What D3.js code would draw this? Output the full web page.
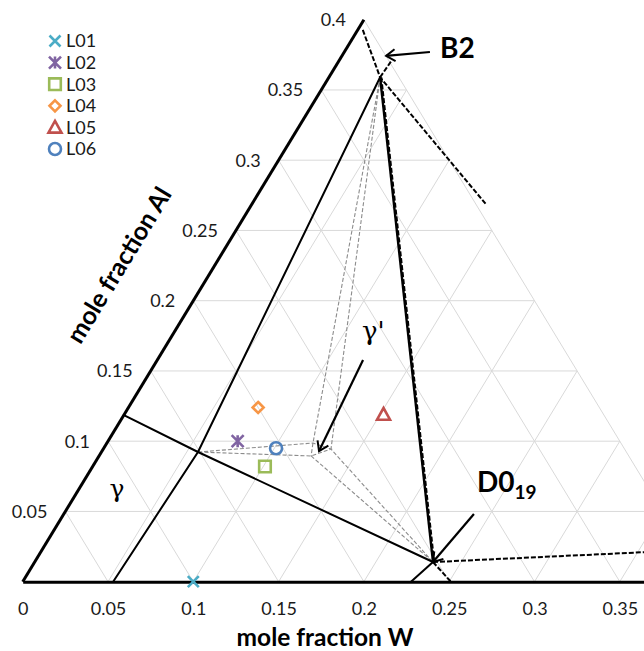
<!DOCTYPE html>
<html>
<head>
<meta charset="utf-8">
<script src="https://cdn.jsdelivr.net/npm/d3@7"></script>
<style>
  body { margin: 0; background: #fff; }
  svg { display: block; }
</style>
</head>
<body>
<svg id="chart"></svg>
<script>
// measured samples: mole fraction W and Al
const series = ["L01", "L02", "L03", "L04", "L05", "L06"];
const seriesW = [0.100, 0.076, 0.101, 0.076, 0.152, 0.101];
const seriesAl = [0.000, 0.100, 0.082, 0.124, 0.119, 0.095];
const seriesColor = ["#4bacc6", "#8064a2", "#9bbb59", "#f79646", "#c0504d", "#4f81bd"];
const seriesShape = ["times", "star", "square", "diamond", "triangle", "circle"];

// tick labels
const wTicks = [0, 0.05, 0.1, 0.15, 0.2, 0.25, 0.3, 0.35];
const alTicks = [0.05, 0.1, 0.15, 0.2, 0.25, 0.3, 0.35, 0.4];
const gridSteps = [0.05, 0.1, 0.15, 0.2, 0.25, 0.3, 0.35, 0.4];

// phase points [W, Al]
const ptB2 = [0.030, 0.359];
const ptD019 = [0.2335, 0.014];
const ptGamma = [0.0566, 0.0923];
const ptGp = [[0.1208, 0.0987], [0.1335, 0.0944], [0.1243, 0.0895]];

// phase boundaries
const solidLines = [
	[[0.053, 0], ptGamma, ptB2],
	[[0, 0.1186], ptGamma, ptD019],
	[ptD019, [0.2276, 0]],
];
const dashedLines = [
	[[0.003, 0.3927], ptB2, [0.138, 0.268]],
	[ptB2, [0.0308, 0.3713]],
	[ptD019, [0.251, 0]],
	[ptD019, [0.354, 0.021]],
];
const greyLines = [
	[ptB2, ptGp[0], ptGp[2]],
	[ptB2, ptGp[1]],
	[ptGamma, ptGp[0], ptGp[1], ptGp[2], ptGamma],
	[ptGp[2], ptD019, ptGp[1]],
];

// arrows [from, to]
const arrows = [
	[[0.0502, 0.377], [0.0259, 0.3742]],
	[[0.1206, 0.1578], [0.1272, 0.093]],
	[[0.2404, 0.0482], ptD019],
];

const width = 644, height = 651;
const svg = d3.select("#chart").attr("width", width).attr("height", height);

// x: W + Al/2 (ternary projection), y: Al
const x = d3.scaleLinear([0, 0.4], [22.7, 705.1]);
const y = d3.scaleLinear([0, 0.4], [581.7, 19.7]);
const px = d => x(d[0] + d[1] / 2);
const py = d => y(d[1]);
const line = d3.line().x(px).y(py);

// grid
const grid = [];
gridSteps.forEach(s => {
	grid.push([[0, s], [0.4 - s, s]]);
	grid.push([[s, 0], [s, 0.4 - s]]);
	grid.push([[s, 0], [0, s]]);
});
svg.append("g")
   .attr("fill", "none")
   .attr("stroke", "#d9d9d9")
   .attr("stroke-width", 1)
   .selectAll("path")
   .data(grid)
   .join("path")
   .attr("d", line);

// grey dashed (gamma prime region)
svg.append("g")
   .attr("fill", "none")
   .attr("stroke", "#8c8c8c")
   .attr("stroke-width", 1.1)
   .attr("stroke-dasharray", "4,2")
   .selectAll("path")
   .data(greyLines)
   .join("path")
   .attr("d", line);

svg.append("g")
   .attr("fill", "none")
   .attr("stroke", "#000")
   .attr("stroke-width", 2)
   .selectAll("path")
   .data(solidLines)
   .join("path")
   .attr("d", line);

// B2 - D019 boundary: solid with dashed on top
svg.append("path")
   .attr("d", line([ptB2, ptD019]))
   .attr("fill", "none")
   .attr("stroke", "#000")
   .attr("stroke-width", 2.4);
svg.append("path")
   .attr("d", line([ptB2, ptD019]))
   .attr("transform", "translate(1.2,0)")
   .attr("fill", "none")
   .attr("stroke", "#000")
   .attr("stroke-width", 2)
   .attr("stroke-dasharray", "5,2");

svg.append("g")
   .attr("fill", "none")
   .attr("stroke", "#000")
   .attr("stroke-width", 2)
   .attr("stroke-dasharray", "5,2")
   .selectAll("path")
   .data(dashedLines)
   .join("path")
   .attr("d", line);

// left edge
svg.append("path")
   .attr("d", line([[0, 0], [0, 0.4]]))
   .attr("stroke", "#000")
   .attr("stroke-width", 3)
   .attr("fill", "none");

// bottom axis
svg.append("g")
   .attr("transform", `translate(0,${y(0)})`)
   .call(d3.axisBottom(x).tickValues(wTicks).tickSize(0).tickSizeOuter(0).tickPadding(21).tickFormat(d => String(d)))
   .call(g => g.select(".domain").attr("stroke-width", 3))
   .call(g => g.selectAll("text").attr("font-family", "Lato").attr("font-size", 18).attr("fill", "#1a1a1a"));

// left tick labels
svg.append("g")
   .selectAll("text")
   .data(alTicks)
   .join("text")
   .attr("x", d => px([0, d]) - 18)
   .attr("y", d => py([0, d]))
   .attr("dy", "0.35em")
   .attr("text-anchor", "end")
   .attr("font-family", "Lato")
   .attr("font-size", 18)
   .attr("fill", "#1a1a1a")
   .text(d => String(d));

// axis titles
svg.append("text")
   .attr("x", 325)
   .attr("y", 646)
   .attr("text-anchor", "middle")
   .attr("font-family", "Lato")
   .attr("font-weight", "bold")
   .attr("font-size", 24.5)
   .text("mole fraction W");

const edgeAngle = Math.atan2(y(0) - y(0.4), px([0, 0.4]) - px([0, 0])) * 180 / Math.PI;
svg.append("text")
   .attr("transform", `translate(119,265) rotate(${-edgeAngle})`)
   .attr("dy", "0.35em")
   .attr("text-anchor", "middle")
   .attr("font-family", "Lato")
   .attr("font-weight", "bold")
   .attr("font-size", 25)
   .text("mole fraction Al");

// marker shapes (size = half width in px)
const shapes = {
	times: { draw(c, r) { c.moveTo(-r, -r); c.lineTo(r, r); c.moveTo(r, -r); c.lineTo(-r, r); } },
	star: { draw(c, r) { c.moveTo(-r, -r); c.lineTo(r, r); c.moveTo(r, -r); c.lineTo(-r, r); c.moveTo(0, -r); c.lineTo(0, r); } },
	square: { draw(c, r) { c.rect(-r, -r, 2 * r, 2 * r); } },
	diamond: { draw(c, r) { c.moveTo(0, -r); c.lineTo(r, 0); c.lineTo(0, r); c.lineTo(-r, 0); c.closePath(); } },
	triangle: { draw(c, r) { c.moveTo(0, -r); c.lineTo(r, r * 0.8); c.lineTo(-r, r * 0.8); c.closePath(); } },
	circle: { draw(c, r) { c.moveTo(r, 0); c.arc(0, 0, r, 0, 2 * Math.PI); } },
};
const shapeSize = { times: 5.5, star: 6, square: 5.8, diamond: 5.5, triangle: 6.5, circle: 6 };

svg.append("g")
   .attr("fill", "none")
   .attr("stroke-width", 2.6)
   .selectAll("path")
   .data(d3.range(series.length))
   .join("path")
   .attr("transform", i => `translate(${px([seriesW[i], seriesAl[i]])},${py([seriesW[i], seriesAl[i]])})`)
   .attr("stroke", i => seriesColor[i])
   .attr("d", i => d3.symbol(shapes[seriesShape[i]], shapeSize[seriesShape[i]])());

// legend
const legend = svg.append("g")
   .selectAll("g")
   .data(d3.range(series.length))
   .join("g")
   .attr("transform", i => `translate(55,${41 + i * 21.6})`);
legend.append("path")
   .attr("fill", "none")
   .attr("stroke-width", 2.6)
   .attr("stroke", i => seriesColor[i])
   .attr("d", i => d3.symbol(shapes[seriesShape[i]], shapeSize[seriesShape[i]])());
legend.append("text")
   .attr("x", 11)
   .attr("dy", "0.36em")
   .attr("font-family", "Lato")
   .attr("font-size", 18)
   .attr("fill", "#1a1a1a")
   .text(i => series[i]);

// arrows
svg.append("defs").append("marker")
   .attr("id", "head")
   .attr("markerUnits", "userSpaceOnUse")
   .attr("markerWidth", 14)
   .attr("markerHeight", 14)
   .attr("refX", 10)
   .attr("refY", 7)
   .attr("orient", "auto")
   .append("path")
   .attr("d", "M1,1 L10,7 L1,13")
   .attr("fill", "none")
   .attr("stroke", "#000")
   .attr("stroke-width", 2);

svg.append("g")
   .attr("stroke", "#000")
   .attr("stroke-width", 2.2)
   .selectAll("line")
   .data(arrows)
   .join("line")
   .attr("x1", d => px(d[0]))
   .attr("y1", d => py(d[0]))
   .attr("x2", d => px(d[1]))
   .attr("y2", d => py(d[1]))
   .attr("marker-end", "url(#head)");

// phase labels
svg.append("text")
   .attr("x", px(ptB2) + 60)
   .attr("y", py(ptB2) - 19)
   .attr("font-family", "Lato")
   .attr("font-weight", "bold")
   .attr("font-size", 28)
   .text("B2");

const d019 = svg.append("text")
   .attr("x", px(ptD019) + 44)
   .attr("y", py(ptD019) - 70)
   .attr("font-family", "Lato")
   .attr("font-weight", "bold")
   .attr("font-size", 28);
d019.append("tspan").text("D0");
d019.append("tspan").attr("dy", 7).attr("font-size", 19).text("19");

svg.append("text")
   .attr("x", 117)
   .attr("y", 497)
   .attr("text-anchor", "middle")
   .attr("font-family", "DejaVu Serif")
   .attr("font-size", 25)
   .text("γ");

svg.append("text")
   .attr("x", 362)
   .attr("y", 340)
   .attr("font-family", "DejaVu Serif")
   .attr("font-size", 26)
   .text("γ'");
</script>
</body>
</html>
